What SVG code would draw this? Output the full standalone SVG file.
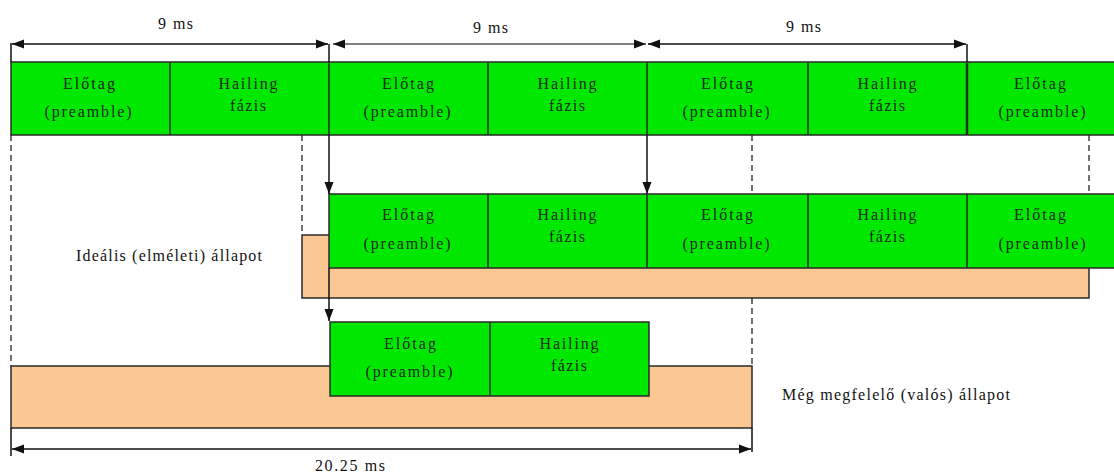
<svg xmlns="http://www.w3.org/2000/svg" width="1114" height="474" viewBox="0 0 1114 474">
<defs>
<marker id="ah" viewBox="0 0 12 10" refX="12" refY="5" markerWidth="12" markerHeight="10" markerUnits="userSpaceOnUse" orient="auto-start-reverse">
<path d="M0,0.5 L12,5 L0,9.5 Z" fill="#111"/>
</marker>
<style>
.g{fill:#00e800;stroke:#2a2a2a;stroke-width:1.5}
.p{fill:#fbc894;stroke:#2a2a2a;stroke-width:1.5}
.t{font-family:'Liberation Serif',serif;font-size:16px;fill:#1c2a1c;text-anchor:middle}
.l{font-family:'Liberation Serif',serif;font-size:16px;fill:#111}
.d{stroke:#222;stroke-width:1.3;stroke-dasharray:6,4;fill:none}
.a{stroke:#111;stroke-width:1.5;fill:none}
</style>
</defs>
<rect width="1114" height="474" fill="#fff"/>
<g id="row1">
<rect class="g" x="11" y="62" width="1110" height="73"/>
<line x1="170" y1="62" x2="170" y2="135" stroke="#2a2a2a" stroke-width="1.5"/>
<line x1="329" y1="62" x2="329" y2="135" stroke="#2a2a2a" stroke-width="1.5"/>
<line x1="488" y1="62" x2="488" y2="135" stroke="#2a2a2a" stroke-width="1.5"/>
<line x1="647" y1="62" x2="647" y2="135" stroke="#2a2a2a" stroke-width="1.5"/>
<line x1="808" y1="62" x2="808" y2="135" stroke="#2a2a2a" stroke-width="1.5"/>
<line x1="967" y1="62" x2="967" y2="135" stroke="#2a2a2a" stroke-width="2.5"/>
<text class="t" x="89" y="89" textLength="52">Előtag</text><text class="t" x="88" y="117" textLength="87">(preamble)</text>
<text class="t" x="248" y="89" textLength="59">Hailing</text><text class="t" x="248" y="111" textLength="36">fázis</text>
<text class="t" x="408" y="89" textLength="52">Előtag</text><text class="t" x="407" y="117" textLength="87">(preamble)</text>
<text class="t" x="567" y="89" textLength="59">Hailing</text><text class="t" x="567" y="111" textLength="36">fázis</text>
<text class="t" x="727" y="89" textLength="52">Előtag</text><text class="t" x="726" y="117" textLength="87">(preamble)</text>
<text class="t" x="887" y="89" textLength="59">Hailing</text><text class="t" x="887" y="111" textLength="36">fázis</text>
<text class="t" x="1040" y="89" textLength="52">Előtag</text><text class="t" x="1042" y="117" textLength="87">(preamble)</text>
</g>
<g id="row2">
<rect class="p" x="302" y="235" width="787" height="63"/>
<rect class="g" x="329" y="194" width="792" height="74"/>
<line x1="488" y1="194" x2="488" y2="268" stroke="#2a2a2a" stroke-width="1.5"/>
<line x1="647" y1="194" x2="647" y2="268" stroke="#2a2a2a" stroke-width="1.5"/>
<line x1="808" y1="194" x2="808" y2="268" stroke="#2a2a2a" stroke-width="1.5"/>
<line x1="967" y1="194" x2="967" y2="268" stroke="#2a2a2a" stroke-width="1.5"/>
<text class="t" x="408" y="220" textLength="52">Előtag</text><text class="t" x="407" y="249" textLength="87">(preamble)</text>
<text class="t" x="567" y="220" textLength="59">Hailing</text><text class="t" x="567" y="242" textLength="36">fázis</text>
<text class="t" x="727" y="220" textLength="52">Előtag</text><text class="t" x="726" y="249" textLength="87">(preamble)</text>
<text class="t" x="887" y="220" textLength="59">Hailing</text><text class="t" x="887" y="242" textLength="36">fázis</text>
<text class="t" x="1040" y="220" textLength="52">Előtag</text><text class="t" x="1042" y="249" textLength="87">(preamble)</text>
</g>
<g id="row3">
<rect class="p" x="11" y="366" width="741" height="62"/>
<rect class="g" x="330" y="322" width="319" height="74"/>
<line x1="490" y1="322" x2="490" y2="396" stroke="#2a2a2a" stroke-width="1.5"/>
<text class="t" x="410" y="349" textLength="52">Előtag</text><text class="t" x="409" y="377" textLength="87">(preamble)</text>
<text class="t" x="569" y="349" textLength="59">Hailing</text><text class="t" x="569" y="371" textLength="36">fázis</text>
</g>
<g id="labels">
<text class="l" x="76" y="261" textLength="186">Ideális (elméleti) állapot</text>
<text class="l" x="782" y="400" textLength="228">Még megfelelő (valós) állapot</text>
<text class="l" x="158" y="29" textLength="35">9 ms</text>
<text class="l" x="473" y="33" textLength="35">9 ms</text>
<text class="l" x="786" y="32" textLength="35">9 ms</text>
<text class="l" x="315" y="471" textLength="70">20.25 ms</text>
</g>
<g id="connectors">
<line class="d" x1="11" y1="135" x2="11" y2="366"/>
<line class="d" x1="302" y1="135" x2="302" y2="235"/>
<line class="d" x1="752" y1="135" x2="752" y2="194"/>
<line class="d" x1="752" y1="298" x2="752" y2="366"/>
<line class="d" x1="1089" y1="135" x2="1089" y2="194"/>
<line class="a" x1="11" y1="43" x2="11" y2="62"/>
<line class="a" x1="12" y1="44" x2="328" y2="44" marker-start="url(#ah)" marker-end="url(#ah)"/>
<line x1="333" y1="44" x2="646" y2="44" stroke="#555" stroke-width="1.5" marker-start="url(#ah)" marker-end="url(#ah)"/>
<line class="a" x1="648" y1="44" x2="966" y2="44" marker-start="url(#ah)" marker-end="url(#ah)"/>
<line class="a" x1="967" y1="44" x2="967" y2="62"/>
<line class="a" x1="329" y1="44" x2="329" y2="62"/>
<line class="a" x1="329" y1="135" x2="329" y2="194" marker-end="url(#ah)"/>
<line class="a" x1="647" y1="135" x2="647" y2="194" marker-end="url(#ah)"/>
<line class="a" x1="329" y1="268" x2="329" y2="321" marker-end="url(#ah)"/>
<line class="a" x1="11" y1="428" x2="11" y2="456"/>
<line class="a" x1="752" y1="428" x2="752" y2="452"/>
<line class="a" x1="12" y1="449" x2="751" y2="449" marker-start="url(#ah)" marker-end="url(#ah)"/>
</g>
</svg>
